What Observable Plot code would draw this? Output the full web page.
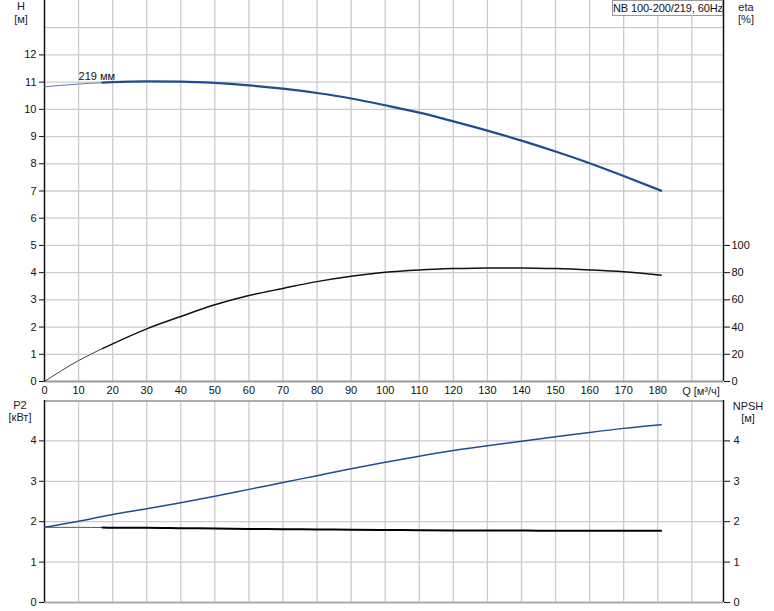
<!DOCTYPE html>
<html><head><meta charset="utf-8">
<script src="https://cdn.jsdelivr.net/npm/d3@7"></script>
<script src="https://cdn.jsdelivr.net/npm/@observablehq/plot@0.6"></script>
<style>
body{margin:0;background:#fff;font-family:"Liberation Sans",Arial,sans-serif;}
#wrap{position:relative;width:774px;height:611px;}
.lbl{position:absolute;font-size:11px;color:#1a1a2e;text-align:center;transform:translateX(-50%);line-height:12px;white-space:nowrap;}
#legend{position:absolute;left:612px;top:0;width:109px;height:14px;border:1px solid #999;background:#fff;font-size:11px;line-height:14px;text-align:center;color:#111;white-space:nowrap;overflow:hidden;letter-spacing:-0.1px;}
svg{display:block}
</style></head><body>
<div id="wrap">
<div id="topChart"></div><div id="botChart"></div>
<div class="lbl" style="left:21px;top:0px">H</div>
<div class="lbl" style="left:21px;top:13px">[м]</div>
<div class="lbl" style="left:746px;top:1px">eta</div>
<div class="lbl" style="left:746px;top:13px">[%]</div>
<div class="lbl" style="left:20px;top:399px">P2</div>
<div class="lbl" style="left:20px;top:411px">[кВт]</div>
<div class="lbl" style="left:748px;top:400px">NPSH</div>
<div class="lbl" style="left:748px;top:412px">[м]</div>
<div class="lbl" style="left:701px;top:385px">Q [м³/ч]</div>
<div id="legend">NB 100-200/219, 60Hz</div>
</div>
<script>
const flow   = [0, 10, 17, 20, 30, 40, 50, 60, 70, 80, 90, 100, 110, 120, 130, 140, 150, 160, 170, 181];
const head   = [10.83, 10.93, 10.98, 11.0, 11.03, 11.02, 10.97, 10.88, 10.76, 10.6, 10.4, 10.15, 9.88, 9.56, 9.22, 8.85, 8.45, 8.02, 7.55, 7.01];
const eta    = [0, 15.4, 24.2, 27.7, 38.7, 47.8, 56.4, 63.2, 68.4, 73.4, 77.3, 80.3, 82, 83, 83.5, 83.5, 83, 82, 80.6, 78];
const npsh   = [1.86, 2.01, 2.13, 2.18, 2.32, 2.47, 2.63, 2.80, 2.97, 3.14, 3.31, 3.47, 3.62, 3.76, 3.88, 3.99, 4.10, 4.21, 4.31, 4.40];
const p2     = [1.86, 1.86, 1.855, 1.85, 1.85, 1.84, 1.83, 1.82, 1.815, 1.81, 1.80, 1.795, 1.79, 1.785, 1.78, 1.78, 1.775, 1.775, 1.775, 1.775];
const qTicks = [0,10,20,30,40,50,60,70,80,90,100,110,120,130,140,150,160,170,180];
const qGrid  = [10,20,30,40,50,60,70,80,90,100,110,120,130,140,150,160,170,180,190];
const hTicks = [0,1,2,3,4,5,6,7,8,9,10,11,12];
const etaTicks = [0,20,40,60,80,100];
const pTicks = [0,1,2,3,4];
const curveLabel = "219 мм";

const rows = flow.map((q,i)=>({q, h:head[i], e:eta[i]/20, n:npsh[i], p:p2[i]}));
const split = 17;
const thin = rows.filter(d=>d.q<=split), thick = rows.filter(d=>d.q>=split);
const xMax = 199.3;
const gridC = "#cccccc", blue = "#1b4f8f";
const fontFamily = '"Liberation Sans", Arial, sans-serif';

const topPlot = Plot.plot({
  width:774, height:400, marginLeft:44, marginRight:51, marginTop:0, marginBottom:19,
  style:{fontFamily, fontSize:"11px", color:"#111", background:"#fff"},
  x:{domain:[0,xMax]}, y:{domain:[0,14]},
  marks:[
    Plot.gridX(qGrid,{stroke:gridC, strokeOpacity:1, strokeWidth:1.3}),
    Plot.gridY([1,2,3,4,5,6,7,8,9,10,11,12,13],{stroke:gridC, strokeOpacity:1, strokeWidth:1.3}),
    Plot.ruleY([0],{stroke:"#999", strokeWidth:2}),
    Plot.ruleX([0],{stroke:"#111", strokeWidth:1.5}),
    Plot.ruleX([xMax],{stroke:"#111", strokeWidth:1.5}),
    Plot.axisX(qTicks,{tickSize:0, tickPadding:5, label:null, tickFormat:d=>d}),
    Plot.axisY(hTicks,{anchor:"left", tickSize:5, tickPadding:3, label:null}),
    Plot.axisY([0,1,2,3,4,5],{anchor:"right", tickSize:6, tickPadding:2, label:null, tickFormat:(d,i)=>etaTicks[i]}),
    Plot.line(thin,{x:"q", y:"h", stroke:"#5a7aa8", strokeWidth:1, curve:"monotone-x"}),
    Plot.line(thick,{x:"q", y:"h", stroke:blue, strokeWidth:2.2, curve:"monotone-x"}),
    Plot.line(thin,{x:"q", y:"e", stroke:"#444", strokeWidth:1, curve:"monotone-x"}),
    Plot.line(thick,{x:"q", y:"e", stroke:"#111", strokeWidth:1.5, curve:"monotone-x"}),
    Plot.text([curveLabel],{x:10, y:11.2, text:d=>d, textAnchor:"start", fill:"#111", fontSize:11})
  ]
});
document.getElementById("topChart").append(topPlot);

const botPlot = Plot.plot({
  width:774, height:211, marginLeft:44, marginRight:51, marginTop:0, marginBottom:9,
  style:{fontFamily, fontSize:"11px", color:"#111", background:"#fff"},
  x:{domain:[0,xMax], axis:null}, y:{domain:[0,5]},
  marks:[
    Plot.gridX(qGrid,{stroke:gridC, strokeOpacity:1, strokeWidth:1.3}),
    Plot.gridY([1,2,3,4],{stroke:gridC, strokeOpacity:1, strokeWidth:1.3}),
    Plot.ruleY([5],{stroke:"#aaa", strokeWidth:3}),
    Plot.ruleY([0],{stroke:"#aaa", strokeWidth:2}),
    Plot.ruleX([0],{stroke:"#111", strokeWidth:1.5}),
    Plot.ruleX([xMax],{stroke:"#111", strokeWidth:1.5}),
    Plot.axisY(pTicks,{anchor:"left", tickSize:5, tickPadding:3, label:null}),
    Plot.axisY(pTicks,{anchor:"right", tickSize:6, tickPadding:4, label:null}),
    Plot.line(rows,{x:"q", y:"n", stroke:blue, strokeWidth:1.5, curve:"monotone-x"}),
    Plot.line(thin,{x:"q", y:"p", stroke:"#555", strokeWidth:1, curve:"monotone-x"}),
    Plot.line(thick,{x:"q", y:"p", stroke:"#000", strokeWidth:2, curve:"monotone-x"})
  ]
});
document.getElementById("botChart").append(botPlot);
</script>
</body></html>
